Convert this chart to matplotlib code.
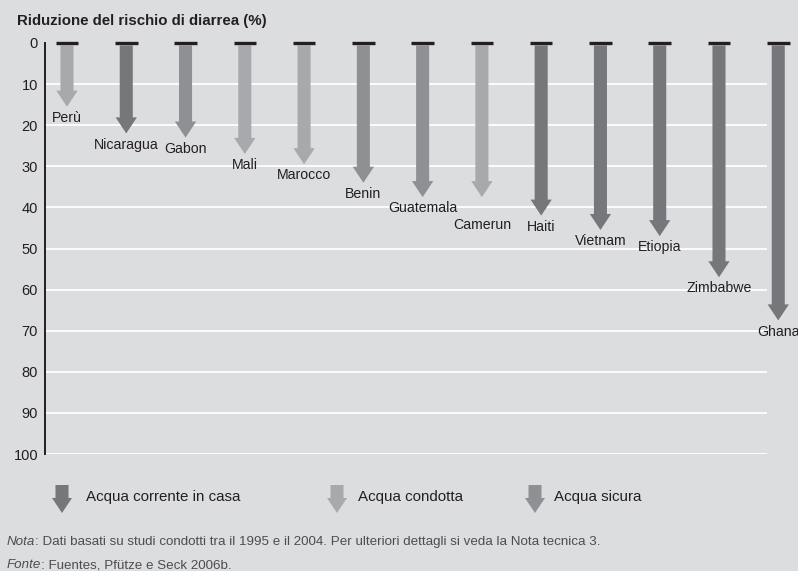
import matplotlib.pyplot as plt
from matplotlib.patches import FancyArrow

# Data
countries = ["Perù", "Nicaragua", "Gabon", "Mali", "Marocco", "Benin", "Guatemala",
             "Camerun", "Haiti", "Vietnam", "Etiopia", "Zimbabwe", "Ghana"]
riduzione = [15.5, 22, 23, 27, 29.5, 34, 37.5, 37.5, 42, 45.5, 47, 57, 67.5]
tipo = ["condotta", "corrente", "sicura", "condotta", "condotta", "sicura", "sicura",
        "condotta", "corrente", "corrente", "corrente", "corrente", "corrente"]
yticks = [0, 10, 20, 30, 40, 50, 60, 70, 80, 90, 100]

legend_labels = {
    "corrente": "Acqua corrente in casa",
    "condotta": "Acqua condotta",
    "sicura": "Acqua sicura",
}
colors = {"corrente": "#76777a", "condotta": "#a8a9ac", "sicura": "#8f9093"}
BG = "#dcdddf"
INK = "#231f20"
NOTE = "#4d4d4f"

# extra label offsets (points) to avoid collisions
label_shift = {"Camerun": -12}

plt.rcParams["font.family"] = ["Liberation Sans", "DejaVu Sans"]
plt.rcParams["text.color"] = INK

fig = plt.figure(figsize=(7.98, 5.71), dpi=100, facecolor=BG)
ax = fig.add_axes([45 / 798, 1 - 454 / 571, 722 / 798, 411 / 571])
ax.set_facecolor(BG)

# Scales
ax.set_xlim(-0.371, 11.81)
ax.set_ylim(100, 0)

# Grid / spines
ax.set_yticks(yticks)
ax.set_xticks([])
ax.tick_params(axis="y", length=0, pad=5, labelsize=10.5, labelcolor=INK)
ax.yaxis.grid(True, color="white", lw=1.3)
ax.get_ygridlines()[0].set_visible(False)
ax.set_axisbelow(True)
for s in ["top", "right", "bottom"]:
    ax.spines[s].set_visible(False)
ax.spines["left"].set_linewidth(1.4)
ax.spines["left"].set_color(INK)

# Arrows
for i, (name, val, t) in enumerate(zip(countries, riduzione, tipo)):
    ax.add_patch(FancyArrow(i, 0.6, 0, val - 0.6, width=0.22, head_width=0.36,
                            head_length=3.9, length_includes_head=True,
                            color=colors[t], lw=0, clip_on=False, zorder=3))
    ax.plot([i - 0.19, i + 0.19], [0, 0], color=INK, lw=2.4,
            solid_capstyle="butt", clip_on=False, zorder=4)
    ax.annotate(name, (i, val), xytext=(0, -3 + label_shift.get(name, 0)),
                textcoords="offset points", ha="center", va="top",
                fontsize=10.2, annotation_clip=False)

# Title
fig.text(17 / 798, 1 - 21 / 571, "Riduzione del rischio di diarrea (%)",
         fontsize=10.8, fontweight="bold", va="center", ha="left")

# Legend (pixel coordinates overlay)
lax = fig.add_axes([0, 0, 1, 1])
lax.set_xlim(0, 798)
lax.set_ylim(571, 0)
lax.axis("off")
lax.patch.set_alpha(0)
for key, xa, xt in [("corrente", 62, 86), ("condotta", 337, 358), ("sicura", 535, 554)]:
    lax.add_patch(FancyArrow(xa, 485, 0, 28, width=13, head_width=20, head_length=15,
                             length_includes_head=True, color=colors[key], lw=0))
    lax.text(xt, 497, legend_labels[key], fontsize=10.9, va="center", ha="left")

# Notes
note_kw = dict(fontsize=9.6, va="bottom", ha="left", color=NOTE)
nota = lax.text(7, 548, "Nota", style="italic", **note_kw)
lax.annotate(": Dati basati su studi condotti tra il 1995 e il 2004. Per ulteriori dettagli si veda la Nota tecnica 3.",
             xy=(1, 0), xycoords=nota, **note_kw)
fonte = lax.text(7, 571, "Fonte", style="italic", **note_kw)
lax.annotate(": Fuentes, Pfütze e Seck 2006b.", xy=(1, 0), xycoords=fonte, **note_kw)

fig.savefig("out.png", dpi=100, facecolor=BG)
